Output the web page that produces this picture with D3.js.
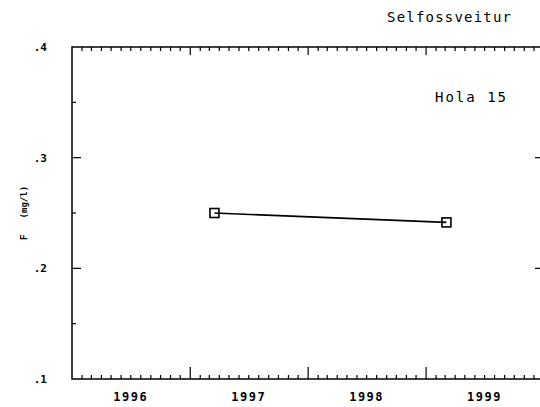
<!DOCTYPE html>
<html><head><meta charset="utf-8">
<script src="https://cdn.jsdelivr.net/npm/d3@7"></script>
<style>body{margin:0;background:#fff}svg{display:block}</style>
</head><body>
<svg id="c" width="540" height="407"></svg>
<script>
const dates = ["1997-03-17", "1999-03-05"];
const fluoride = [0.250, 0.2415];
const yTicksMajor = [0.1, 0.2, 0.3, 0.4];
const yTicksMinor = [0.15, 0.25, 0.35];
const yTickLabels = [".1", ".2", ".3", ".4"];
const years = [1996, 1997, 1998, 1999];
const title = "Selfossveitur";
const wellName = "Hola 15";
const yTitle = "F   (mg/l)";

const svg = d3.select("#c");
const L = 72, R = 544, T = 47, B = 379;
const parse = d3.timeParse("%Y-%m-%d");
const x = d3.scaleTime().domain([new Date(1996,0,1), new Date(2000,0,1)]).range([L, R]);
const y = d3.scaleLinear().domain([0.1, 0.4]).range([B, T]);
const font = "'DejaVu Sans Mono', monospace";

// frame
svg.append("rect").attr("x", L).attr("y", T).attr("width", R - L).attr("height", B - T)
  .attr("fill", "none").attr("stroke", "#000").attr("stroke-width", 1.5);

// x ticks
const months = d3.timeMonth.range(new Date(1996,1,1), new Date(2000,0,1));
const yearStarts = d3.timeYear.range(new Date(1997,0,1), new Date(2000,0,1));
const tg = svg.append("g").attr("stroke", "#000").attr("stroke-width", 1.2);
months.forEach(d => {
  const isYear = d.getMonth() === 0;
  const xx = x(d);
  tg.append("line").attr("x1", xx).attr("x2", xx).attr("y1", T).attr("y2", T + (isYear ? 8 : 4));
  tg.append("line").attr("x1", xx).attr("x2", xx).attr("y1", B).attr("y2", B - (isYear ? 12 : 4));
});
// y ticks
yTicksMajor.slice(1, 3).forEach(v => {
  tg.append("line").attr("x1", L).attr("x2", L + 9).attr("y1", y(v)).attr("y2", y(v));
  tg.append("line").attr("x1", R).attr("x2", R - 9).attr("y1", y(v)).attr("y2", y(v));
});
yTicksMinor.forEach(v => {
  tg.append("line").attr("x1", L).attr("x2", L + 4).attr("y1", y(v)).attr("y2", y(v));
  tg.append("line").attr("x1", R).attr("x2", R - 4).attr("y1", y(v)).attr("y2", y(v));
});

// y tick labels
yTicksMajor.forEach((v, i) => {
  svg.append("text").attr("x", 47).attr("y", y(v) + 4).attr("text-anchor", "end")
    .attr("font-family", font).attr("font-size", 11).attr("font-weight", "bold")
    .text(yTickLabels[i]);
});
// year labels
years.forEach(yr => {
  const cx = x(new Date(yr, 6, 1));
  svg.append("text").attr("x", cx).attr("y", 401).attr("text-anchor", "middle")
    .attr("font-family", font).attr("font-size", 12).attr("font-weight", "bold")
    .attr("letter-spacing", 1.5).text(yr);
});

// y title
svg.append("text").attr("transform", "translate(27,213) rotate(-90)").attr("text-anchor", "middle")
  .attr("font-family", font).attr("font-size", 9).attr("font-weight", "bold").attr("xml:space", "preserve")
  .text(yTitle);

// titles
svg.append("text").attr("x", 387).attr("y", 22).attr("font-family", font).attr("font-size", 14)
  .attr("letter-spacing", 1.2).text(title);
svg.append("text").attr("x", 435).attr("y", 102).attr("font-family", font).attr("font-size", 14)
  .attr("letter-spacing", 2).text(wellName);

// data
const pts = dates.map((d, i) => ({d: parse(d), v: fluoride[i]}));
svg.append("path").datum(pts).attr("fill", "none").attr("stroke", "#000").attr("stroke-width", 1.6)
  .attr("d", d3.line().x(p => x(p.d)).y(p => y(p.v)));
svg.selectAll("rect.pt").data(pts).enter().append("rect").attr("class", "pt")
  .attr("x", p => x(p.d) - 4.5).attr("y", p => y(p.v) - 4.5).attr("width", 9).attr("height", 9)
  .attr("fill", "none").attr("stroke", "#000").attr("stroke-width", 1.6);
</script>
</body></html>
